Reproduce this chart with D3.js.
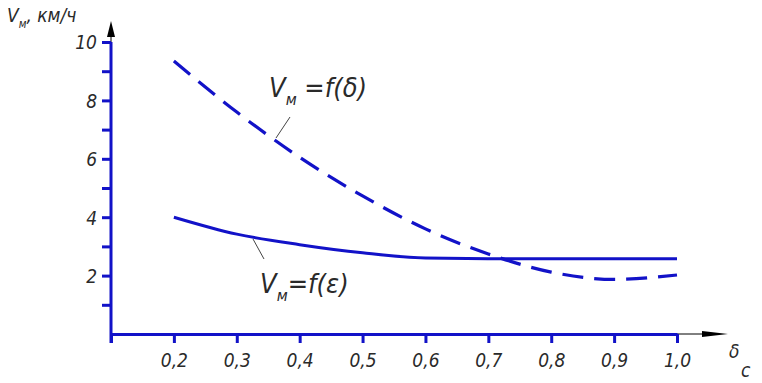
<!DOCTYPE html>
<html>
<head>
<meta charset="utf-8">
<script src="https://cdn.jsdelivr.net/npm/d3@7"></script>
<style>
  html, body { margin: 0; padding: 0; background: #fff; }
  svg { display: block; }
  text { font-family: "Liberation Sans Narrow", "DejaVu Sans Condensed", "Liberation Sans", sans-serif; font-style: italic; fill: #2a2a2a; }
</style>
</head>
<body>
<script>
// ---- data ----
const deltaValues = [0.2, 0.3, 0.4, 0.5, 0.6, 0.7, 0.8, 0.9, 1.0];
const seriesDelta = [9.35, 7.6, 6.05, 4.73, 3.6, 2.74, 2.12, 1.87, 2.02];   // Vм = f(δ), dashed
const seriesEps   = [4.0, 3.42, 3.06, 2.78, 2.6, 2.58, 2.58, 2.58, 2.58];   // Vм = f(ε), solid
const xTickValues = [0.1, 0.2, 0.3, 0.4, 0.5, 0.6, 0.7, 0.8, 0.9, 1.0];
const xTickLabels = ["", "0,2", "0,3", "0,4", "0,5", "0,6", "0,7", "0,8", "0,9", "1,0"];
const yTickValues = [1, 2, 3, 4, 5, 6, 7, 8, 9, 10];
const yTickLabels = ["", "2", "", "4", "", "6", "", "8", "", "10"];

const W = 762, H = 383;
const blue = "#1212c8";
const svg = d3.select("body").append("svg").attr("width", W).attr("height", H);

const x = d3.scaleLinear().domain([0.1, 1.0]).range([111, 677]);
const y = d3.scaleLinear().domain([0, 10]).range([334, 42]);

// arrows (black thin extensions)
svg.append("line").attr("x1", x(1.0)).attr("x2", 704).attr("y1", y(0)).attr("y2", y(0))
  .attr("stroke", "#000").attr("stroke-width", 1);
svg.append("path").attr("d", `M702,${y(0)-3} L728,${y(0)} L702,${y(0)+3} Z`).attr("fill", "#000");
svg.append("line").attr("x1", x(0.1)).attr("x2", x(0.1)).attr("y1", y(10)).attr("y2", 35)
  .attr("stroke", "#000").attr("stroke-width", 1);
svg.append("path").attr("d", `M${x(0.1)-4},37 L${x(0.1)},21 L${x(0.1)+4},37 Z`).attr("fill", "#000");

// x axis
const xAxis = d3.axisBottom(x).tickValues(xTickValues).tickSize(9).tickSizeOuter(0)
  .tickFormat((d, i) => xTickLabels[i]);
const gx = svg.append("g").attr("transform", `translate(0,${y(0)})`).call(xAxis);
gx.select(".domain").attr("stroke", blue).attr("stroke-width", 3);
gx.selectAll(".tick line").attr("stroke", blue).attr("stroke-width", 3);
gx.selectAll(".tick text").attr("font-size", 19).attr("dy", "0").attr("y", 33)
  .style("font-family", null).attr("fill", "#2a2a2a");

// y axis
const yAxis = d3.axisLeft(y).tickValues(yTickValues).tickSize(9).tickSizeOuter(0)
  .tickFormat((d, i) => yTickLabels[i]);
const gy = svg.append("g").attr("transform", `translate(${x(0.1)},0)`).call(yAxis);
gy.select(".domain").attr("stroke", blue).attr("stroke-width", 3)
  .attr("d", `M0,${y(0)+9}V${y(10)}`);
gy.selectAll(".tick line").attr("stroke", blue).attr("stroke-width", 3);
gy.selectAll(".tick text").attr("font-size", 19).attr("x", -14).attr("dy", "0.36em")
  .attr("fill", "#2a2a2a");
gx.attr("font-family", null); gy.attr("font-family", null);

// curves
const line = d3.line().x((d, i) => x(deltaValues[i])).y(d => y(d)).curve(d3.curveMonotoneX);
svg.append("path").datum(seriesEps).attr("d", line).attr("fill", "none")
  .attr("stroke", blue).attr("stroke-width", 3);
svg.append("path").datum(seriesDelta).attr("d", line).attr("fill", "none")
  .attr("stroke", blue).attr("stroke-width", 3.2).attr("stroke-dasharray", "21,11");

// annotations
function vLabel(tx, ty, size, rest) {
  const t = svg.append("text").attr("x", tx).attr("y", ty).attr("font-size", size);
  t.append("tspan").text("V");
  t.append("tspan").attr("font-size", size * 0.6).attr("dy", size * 0.3).text("м");
  t.append("tspan").attr("dy", -size * 0.3).text(rest);
  return t;
}
vLabel(269, 97, 27, " =f(δ)");
svg.append("line").attr("x1", 290).attr("y1", 117).attr("x2", 276).attr("y2", 138)
  .attr("stroke", "#444").attr("stroke-width", 1);
vLabel(260, 293, 27, "=f(ε)");
svg.append("line").attr("x1", 253).attr("y1", 239).attr("x2", 264).attr("y2", 259)
  .attr("stroke", "#444").attr("stroke-width", 1);

// axis titles
vLabel(7, 22, 19, ", км/ч");
const dl = svg.append("text").attr("x", 729).attr("y", 358).attr("font-size", 19);
dl.append("tspan").text("δ");
svg.append("text").attr("x", 741).attr("y", 377).attr("font-size", 19).text("c");
</script>
</body>
</html>
